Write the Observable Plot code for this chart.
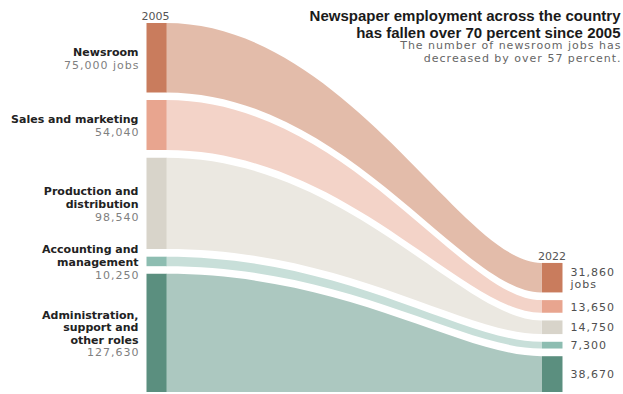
<!DOCTYPE html>
<html>
<head>
<meta charset="utf-8">
<script src="https://cdn.jsdelivr.net/npm/d3@7"></script>
<script src="https://cdn.jsdelivr.net/npm/@observablehq/plot@0.6"></script>
<style>
  html, body { margin: 0; padding: 0; background: #fff; }
  #chart svg { display: block; }
</style>
</head>
<body>
<div id="chart"></div>
<script>
// ---- data ----
const years = [2005, 2022];
const categories = ["Newsroom", "Sales and marketing", "Production and\ndistribution", "Accounting and\nmanagement", "Administration,\nsupport and\nother roles"];
const jobs2005 = [75000, 54040, 98540, 10250, 127630];
const jobs2022 = [31860, 13650, 14750, 7300, 38670];
const barColors = ["#c97c5d", "#e8a58f", "#d8d4ca", "#8dbdb1", "#5b8f7f"];
const bandColors = ["#e3bcaa", "#f3d3c8", "#ebe8e1", "#c8dfd9", "#acc8c0"];
const titleText = "Newspaper employment across the country\nhas fallen over 70 percent since 2005";
const subtitleText = "The number of newsroom jobs has\ndecreased by over 57 percent.";

// ---- layout (stack with gaps, bottoms aligned) ----
const GAP = 8300;
const fmt = d3.format(",");
const totalOf = arr => d3.sum(arr) + GAP * (arr.length - 1);
const leftTotal = totalOf(jobs2005);
const rightTotal = totalOf(jobs2022);
function stack(arr, start) {
  let y = start;
  return arr.map(v => { const r = {y1: y, y2: y + v}; y += v + GAP; return r; });
}
const s2005 = stack(jobs2005, 0);
const s2022 = stack(jobs2022, leftTotal - rightTotal);

const bars = [];
const bands = [];
categories.forEach((c, i) => {
  [[2005, s2005[i], jobs2005[i]], [2022, s2022[i], jobs2022[i]]].forEach(([yr, s, v]) => {
    const n = c.split("\n").length;
    bars.push({cat: c, year: yr, y1: s.y1, y2: s.y2, mid: (s.y1 + s.y2) / 2, value: v, color: barColors[i], n, idx: i});
    bands.push({cat: c, year: yr, y1: s.y1, y2: s.y2, band: bandColors[i]});
  });
});
const left = bars.filter(d => d.year === 2005);
const right = bars.filter(d => d.year === 2022);
const yearTops = [{year: 2005, top: 0}, {year: 2022, top: leftTotal - rightTotal}];

// asymmetric horizontal bump curve
function asymBump(a, b) {
  return function(context) {
    return {
      areaStart() { this._line = 0; },
      areaEnd() { this._line = NaN; },
      lineStart() { this._point = 0; },
      lineEnd() { if (this._line || (this._line !== 0 && this._point === 1)) context.closePath(); this._line = 1 - this._line; },
      point(x, y) {
        x = +x; y = +y;
        if (this._point === 0) {
          this._point = 1;
          if (this._line) context.lineTo(x, y); else context.moveTo(x, y);
        } else {
          const x0 = this._x0, y0 = this._y0;
          const lo = Math.min(x0, x), hi = Math.max(x0, x), w = hi - lo;
          const cL = lo + a * w, cR = hi - b * w;
          if (x > x0) context.bezierCurveTo(cL, y0, cR, y, x, y);
          else context.bezierCurveTo(cR, y0, cL, y, x, y);
        }
        this._x0 = x; this._y0 = y;
      }
    };
  };
}

const LH = 1.15;
const boldFont = "DejaVu Sans, Verdana, sans-serif";
const titleFont = "Liberation Sans, Arial, sans-serif";
const numFont = "DejaVu Sans, Verdana, sans-serif";

const chart = Plot.plot({
  width: 623,
  height: 394,
  margin: 0,
  x: {domain: years, type: "linear", range: [166, 541], axis: null},
  y: {domain: [0, leftTotal], range: [23, 392], axis: null},
  color: {type: "identity"},
  marks: [
    Plot.areaY(bands, {x: "year", y1: "y1", y2: "y2", z: "cat", fill: "band", curve: asymBump(0.48, 0.21)}),
    Plot.ruleX(left, {x: "year", y1: "y1", y2: "y2", stroke: "color", strokeWidth: 20, dx: -10}),
    Plot.ruleX(right, {x: "year", y1: "y1", y2: "y2", stroke: "color", strokeWidth: 21, dx: 10.5}),
    // year labels
    Plot.text(yearTops.slice(0, 1), {x: "year", y: "top", text: d => String(d.year), dy: -7, dx: -11, fill: "#555", fontSize: 11, fontFamily: numFont}),
    Plot.text(yearTops.slice(1), {x: "year", y: "top", text: d => String(d.year), dy: -7, dx: 10.5, fill: "#555", fontSize: 11, fontFamily: numFont}),
    // left names
    Plot.text(left, {x: "year", y: "mid", text: d => d.cat + "\n", textAnchor: "end", lineAnchor: "middle", lineHeight: LH, dx: -28, fill: "#222", fontWeight: "bold", fontSize: 11, fontFamily: boldFont}),
    // left values
    Plot.text(left, {x: "year", y: "mid", text: d => "\n".repeat(d.n) + fmt(d.value) + (d.idx === 0 ? " jobs" : ""), textAnchor: "end", lineAnchor: "middle", lineHeight: LH, dx: -27, fill: "#808080", fontSize: 11, fontFamily: numFont}),
    // right values
    Plot.text(right, {x: "year", y: "mid", text: d => fmt(d.value) + (d.idx === 0 ? "\njobs" : ""), textAnchor: "start", lineAnchor: "middle", lineHeight: 1.05, dx: 29, fill: "#505050", fontSize: 11, fontFamily: numFont}),
    // title & subtitle
    Plot.text([titleText], {frameAnchor: "top-right", text: d => d, textAnchor: "end", lineAnchor: "top", dx: -3, dy: 9, lineHeight: 1.1, fill: "#1a1a1a", fontWeight: "bold", fontSize: 15, fontFamily: titleFont}),
    Plot.text([subtitleText], {frameAnchor: "top-right", text: d => d, textAnchor: "end", lineAnchor: "top", dx: -2, dy: 40, lineHeight: 1.13, fill: "#666666", fontSize: 11, fontFamily: numFont})
  ]
});
document.getElementById("chart").append(chart);
// letter spacing for the wide light number font
["#808080", "#505050", "#666666"].forEach(c => {
  chart.querySelectorAll(`g[fill="${c}"]`).forEach(g => { g.style.letterSpacing = "1px"; });
});
</script>
</body>
</html>
